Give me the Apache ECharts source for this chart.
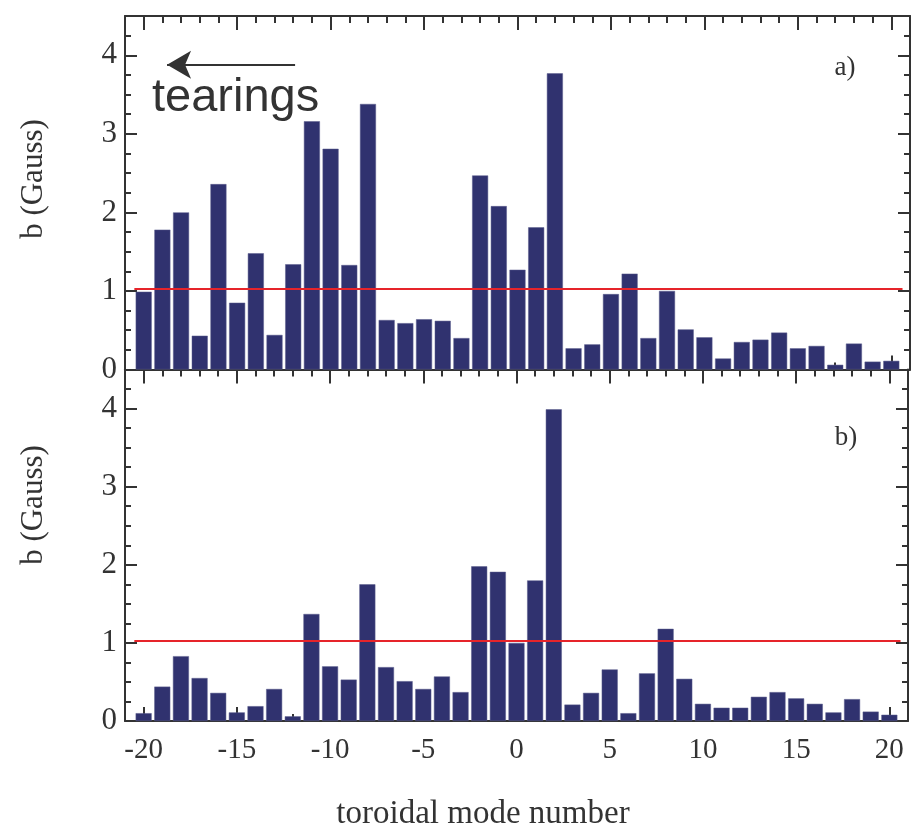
<!DOCTYPE html>
<html>
<head>
<meta charset="utf-8">
<script src="https://cdn.jsdelivr.net/npm/echarts@6/dist/echarts.min.js"></script>
<style>html,body{margin:0;padding:0;background:#fff}#c{width:911px;height:829px}</style>
</head>
<body>
<div id="c"></div>
<script>
// toroidal mode numbers
const modes = [-20,-19,-18,-17,-16,-15,-14,-13,-12,-11,-10,-9,-8,-7,-6,-5,-4,-3,-2,-1,0,1,2,3,4,5,6,7,8,9,10,11,12,13,14,15,16,17,18,19,20];
// panel a) amplitudes (Gauss)
const bA = [0.99,1.78,2.00,0.43,2.36,0.85,1.48,0.44,1.34,3.16,2.81,1.33,3.38,0.63,0.59,0.64,0.62,0.40,2.47,2.08,1.27,1.81,3.77,0.27,0.32,0.96,1.22,0.40,1.00,0.51,0.41,0.14,0.35,0.38,0.47,0.27,0.30,0.06,0.33,0.10,0.11];
// panel b) amplitudes (Gauss)
const bB = [0.10,0.44,0.83,0.55,0.36,0.11,0.19,0.41,0.06,1.37,0.70,0.53,1.75,0.69,0.51,0.41,0.57,0.37,1.98,1.91,1.00,1.80,3.99,0.21,0.36,0.66,0.10,0.61,1.18,0.54,0.22,0.17,0.17,0.31,0.37,0.29,0.22,0.11,0.28,0.12,0.08];
// threshold level
const threshold = 1.03;
// arrow annotation (mode-number span, level)
const arrowFrom = [-11.9, 3.88];
const arrowTo = [-18.75, 3.88];

const tickCats = [modes[0] - 1].concat(modes, [modes[modes.length - 1] + 1]);

const FONT = 'Liberation Serif';
const AX = '#333333';
const BAR = '#30326f';
const RED = '#e6242a';

function xAxes(gi, withLabels) {
  const line = {show: true, onZero: false, lineStyle: {color: AX, width: 2}};
  const tick = (len) => ({show: true, inside: true, length: len, lineStyle: {color: AX, width: 2}});
  const mk = (pos, labels) => ({
    type: 'value', gridIndex: gi, position: pos, min: -21, max: 21, interval: 1,
    axisLine: line, axisTick: tick(7), splitLine: {show: false},
    axisLabel: {show: labels, margin: 15, fontFamily: FONT, fontSize: 29, color: AX,
      formatter: v => (v % 5 === 0 ? String(v) : '')}
  });
  const mkLong = (pos) => ({
    type: 'category', gridIndex: gi, position: pos, data: tickCats, boundaryGap: false,
    axisLine: {show: false, onZero: false},
    axisTick: Object.assign(tick(14), {interval: (i, v) => Number(v) % 5 === 0}),
    axisLabel: {show: false}, splitLine: {show: false}
  });
  return [mk('bottom', withLabels), mkLong('bottom'), mk('top', false), mkLong('top')];
}

function yAxes(gi) {
  const base = {type: 'value', gridIndex: gi, min: 0, max: 4.5, splitLine: {show: false}};
  const tick = (len) => ({show: true, inside: true, length: len, lineStyle: {color: AX, width: 2}});
  const line = {show: true, onZero: false, lineStyle: {color: AX, width: 2}};
  return [
    Object.assign({}, base, {position: 'left', interval: 0.25, axisLine: line, axisTick: tick(6),
      axisLabel: {show: true, margin: 8, fontFamily: FONT, fontSize: 31, color: AX,
        formatter: v => (Number.isInteger(v) && v <= 4 ? String(v) : '')}}),
    Object.assign({}, base, {position: 'left', interval: 1, axisLine: {show: false, onZero: false}, axisTick: tick(12), axisLabel: {show: false}}),
    Object.assign({}, base, {position: 'right', interval: 0.25, axisLine: line, axisTick: tick(6), axisLabel: {show: false}}),
    Object.assign({}, base, {position: 'right', interval: 1, axisLine: {show: false, onZero: false}, axisTick: tick(12), axisLabel: {show: false}})
  ];
}

function redLine() {
  return [{coord: [-20.5, threshold], symbol: 'none', lineStyle: {color: RED, width: 2, type: 'solid'}},
          {coord: [20.6, threshold], symbol: 'none', lineStyle: {color: RED, width: 2, type: 'solid'}}];
}

const chart = echarts.init(document.getElementById('c'), null, {renderer: 'canvas'});
chart.setOption({
  animation: false,
  backgroundColor: '#ffffff',
  grid: [
    {left: 125, width: 785, top: 16, height: 353.5},
    {left: 125, width: 785, top: 369.5, height: 351.5}
  ],
  xAxis: xAxes(0, false).concat(xAxes(1, true)),
  yAxis: yAxes(0).concat(yAxes(1)),
  series: [
    {
      type: 'bar', xAxisIndex: 0, yAxisIndex: 0, barWidth: 16,
      data: modes.map((m, i) => [m, bA[i]]),
      itemStyle: {color: BAR, borderColor: '#5a5c8c', borderWidth: 0.5},
      silent: true,
      markLine: {
        silent: true, animation: false, label: {show: false}, emphasis: {disabled: true},
        symbol: ['none', 'none'],
        data: [
          redLine(),
          [{coord: arrowFrom, symbol: 'none', lineStyle: {color: AX, width: 2, type: 'solid'}},
           {coord: arrowTo, symbol: 'arrow', symbolSize: [21, 24], lineStyle: {color: AX, width: 2, type: 'solid'}, itemStyle: {color: AX}}]
        ]
      }
    },
    {
      type: 'bar', xAxisIndex: 4, yAxisIndex: 4, barWidth: 16,
      data: modes.map((m, i) => [m, bB[i]]),
      itemStyle: {color: BAR, borderColor: '#5a5c8c', borderWidth: 0.5},
      silent: true,
      markLine: {
        silent: true, animation: false, label: {show: false}, emphasis: {disabled: true},
        symbol: ['none', 'none'],
        data: [redLine()]
      }
    }
  ],
  graphic: [
    {type: 'text', x: 152, y: 98, style: {text: 'tearings', font: '47px "Liberation Sans"', fill: '#333333', verticalAlign: 'middle'}},
    {type: 'text', x: 845, y: 68, style: {text: 'a)', font: '27px "Liberation Serif"', fill: '#333333', align: 'center', verticalAlign: 'middle'}},
    {type: 'text', x: 846, y: 438, style: {text: 'b)', font: '27px "Liberation Serif"', fill: '#333333', align: 'center', verticalAlign: 'middle'}},
    {type: 'text', x: 34, y: 179, rotation: Math.PI / 2, style: {text: 'b (Gauss)', font: '31px "Liberation Serif"', fill: '#333333', align: 'center', verticalAlign: 'middle'}},
    {type: 'text', x: 34, y: 505, rotation: Math.PI / 2, style: {text: 'b (Gauss)', font: '31px "Liberation Serif"', fill: '#333333', align: 'center', verticalAlign: 'middle'}},
    {type: 'text', x: 483, y: 814, style: {text: 'toroidal mode number', font: '33px "Liberation Serif"', fill: '#333333', align: 'center', verticalAlign: 'middle'}}
  ]
});
</script>
</body>
</html>
